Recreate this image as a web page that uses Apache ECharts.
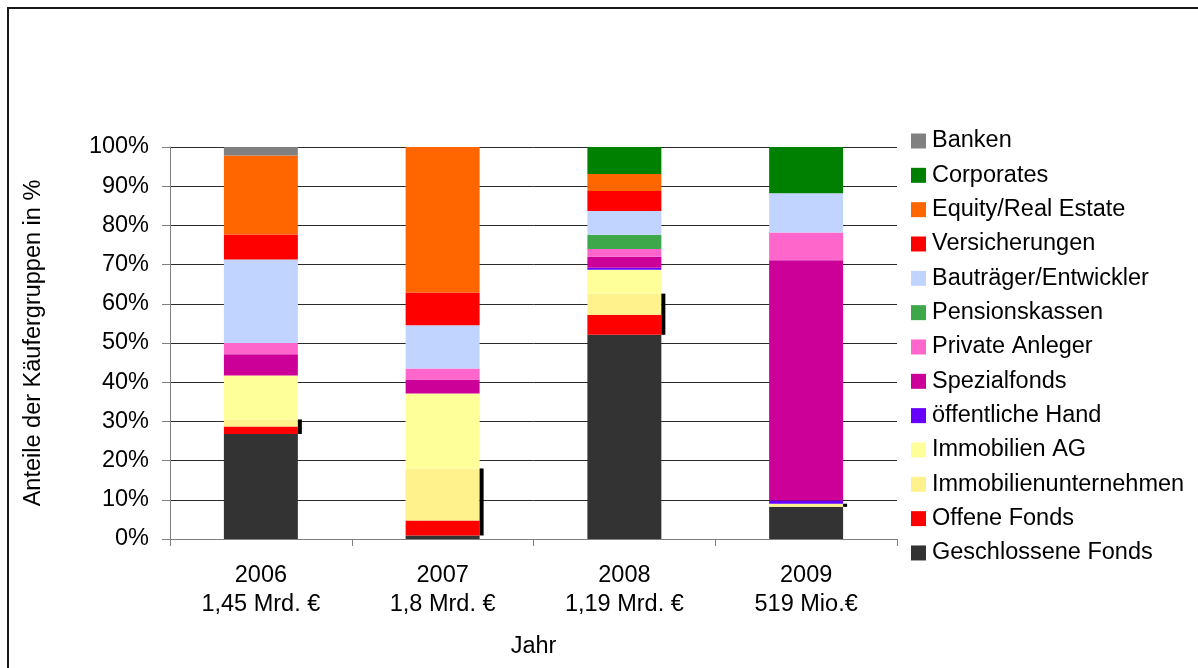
<!DOCTYPE html>
<html>
<head>
<meta charset="utf-8">
<script src="https://cdn.jsdelivr.net/npm/echarts@6/dist/echarts.min.js"></script>
<style>
  html, body { margin: 0; padding: 0; background: #fff; }
  #chart { width: 1198px; height: 668px; }
</style>
</head>
<body>
<div id="chart"></div>
<script>
// Käufergruppen-Anteile je Jahr (Prozent), von unten nach oben gestapelt
const years = ['2006', '2007', '2008', '2009'];
const volumes = ['1,45 Mrd. €', '1,8 Mrd. €', '1,19 Mrd. €', '519 Mio.€'];
const yTicks = [0, 10, 20, 30, 40, 50, 60, 70, 80, 90, 100];

const geschlosseneFonds     = [26.8, 0.9, 52.1, 8.2];
const offeneFonds           = [1.9, 3.8, 5.1, 0];
const immobilienunternehmen = [1.8, 13.3, 5.4, 0.8];
const immobilienAG          = [11.2, 19.1, 6.1, 0];
const oeffentlicheHand      = [0, 0, 0.5, 0.8];
const spezialfonds          = [5.4, 3.6, 2.8, 61.3];
const privateAnleger        = [2.9, 2.8, 2.0, 7.1];
const pensionskassen        = [0, 0, 3.6, 0];
const bautraeger            = [21.3, 11.0, 6.1, 10.0];
const versicherungen        = [6.4, 8.4, 5.1, 0];
const equityRealEstate      = [20.1, 37.1, 4.3, 0];
const corporates            = [0, 0, 6.9, 11.8];
const banken                = [2.2, 0, 0, 0];

const stackOrder = [
  ['Geschlossene Fonds', geschlosseneFonds, '#333333'],
  ['Offene Fonds', offeneFonds, '#FF0000'],
  ['Immobilienunternehmen', immobilienunternehmen, '#FFF18C'],
  ['Immobilien AG', immobilienAG, '#FFFF99'],
  ['öffentliche Hand', oeffentlicheHand, '#6600FF'],
  ['Spezialfonds', spezialfonds, '#CC0099'],
  ['Private Anleger', privateAnleger, '#FF66CC'],
  ['Pensionskassen', pensionskassen, '#3DA84A'],
  ['Bauträger/Entwickler', bautraeger, '#C0D4FF'],
  ['Versicherungen', versicherungen, '#FF0000'],
  ['Equity/Real Estate', equityRealEstate, '#FF6600'],
  ['Corporates', corporates, '#008000'],
  ['Banken', banken, '#808080']
];

const FONT = '"Liberation Sans", Arial, sans-serif';
const FS = 23.5;
const BAR_SHARE = 0.407;

const barSeries = stackOrder.map(([name, values, color]) => ({
  name: name,
  type: 'bar',
  stack: 'anteil',
  barWidth: (BAR_SHARE * 100) + '%',
  itemStyle: { color: color },
  data: values,
  silent: true
}));

// dunkle Kante rechts neben den Fonds-/Unternehmens-Segmenten
const edgeData = years.map((y, i) => [
  i,
  geschlosseneFonds[i],
  geschlosseneFonds[i] + offeneFonds[i] + immobilienunternehmen[i]
]);

const edgeSeries = {
  type: 'custom',
  silent: true,
  z: 5,
  encode: { x: 0, y: [1, 2] },
  data: edgeData,
  renderItem: function (params, api) {
    const lo = api.coord([api.value(0), api.value(1)]);
    const hi = api.coord([api.value(0), api.value(2)]);
    const band = api.size([1, 0])[0];
    const x = lo[0] + band * BAR_SHARE / 2;
    return {
      type: 'rect',
      shape: { x: x, y: hi[1], width: 4, height: lo[1] - hi[1] },
      style: { fill: '#000' }
    };
  }
};

const chart = echarts.init(document.getElementById('chart'), null, { renderer: 'canvas' });

chart.setOption({
  animation: false,
  backgroundColor: '#fff',
  textStyle: { fontFamily: FONT, color: '#000' },
  graphic: [{
    type: 'rect',
    shape: { x: 8, y: 8, width: 1400, height: 900 },
    style: { fill: 'none', stroke: '#1a1a1a', lineWidth: 2 },
    silent: true
  }],
  grid: { left: 170, right: 301, top: 147, bottom: 129, containLabel: false },
  legend: {
    orient: 'vertical',
    left: 911,
    top: 129,
    padding: 0,
    itemWidth: 15,
    itemHeight: 15,
    itemGap: 10.33,
    icon: 'rect',
    selectedMode: false,
    data: stackOrder.map(s => s[0]).reverse(),
    textStyle: { fontFamily: FONT, fontSize: FS, color: '#000', padding: [0, 0, 0, 1] }
  },
  xAxis: {
    type: 'category',
    data: years,
    name: 'Jahr',
    nameLocation: 'middle',
    nameGap: 96,
    nameTextStyle: { fontFamily: FONT, fontSize: FS, color: '#000' },
    axisLine: { lineStyle: { color: '#808080', width: 1 } },
    axisTick: { show: true, length: 7, lineStyle: { color: '#808080' } },
    axisLabel: {
      margin: 22,
      fontFamily: FONT,
      fontSize: FS,
      color: '#000',
      lineHeight: 29,
      formatter: function (v, i) { return v + '\n' + volumes[i]; }
    }
  },
  yAxis: {
    type: 'value',
    min: yTicks[0],
    max: yTicks[yTicks.length - 1],
    interval: yTicks[1] - yTicks[0],
    name: 'Anteile der Käufergruppen in %',
    nameLocation: 'middle',
    nameGap: 124,
    nameTextStyle: { fontFamily: FONT, fontSize: FS, color: '#000' },
    axisLine: { show: true, lineStyle: { color: '#808080', width: 1 } },
    axisTick: { show: true, length: 8, lineStyle: { color: '#808080' } },
    axisLabel: {
      margin: 21,
      fontFamily: FONT,
      fontSize: FS,
      color: '#000',
      formatter: '{value}%'
    },
    splitLine: { show: true, lineStyle: { color: '#2a2a2a', width: 1 } }
  },
  series: barSeries.concat([edgeSeries])
});
</script>
</body>
</html>
